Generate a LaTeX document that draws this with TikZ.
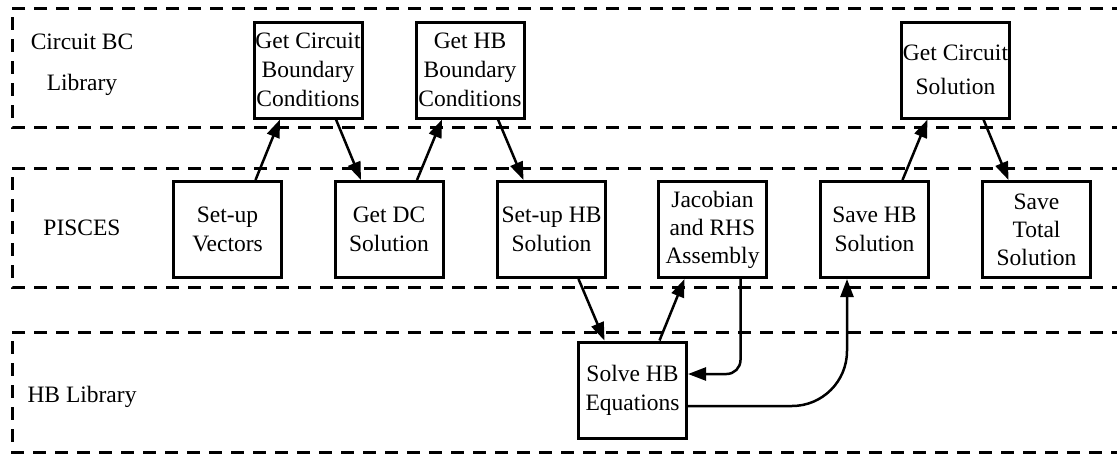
\documentclass[tikz,border=0pt]{standalone}
\usepackage{fontspec}
\setmainfont{Liberation Serif}
\usetikzlibrary{arrows.meta}
\begin{document}
\begin{tikzpicture}[x=1pt,y=-1pt,
  band/.style={line width=3pt, dash pattern=on 13pt off 9pt},
  procbox/.style={draw, line width=3pt, minimum width=108pt, minimum height=96pt,
    inner sep=0pt, align=center, font=\fontsize{23.5}{29}\selectfont},
  lbl/.style={font=\fontsize{23.5}{29}\selectfont, inner sep=0pt},
  conn/.style={line width=2.5pt, -{Triangle[length=18pt,width=13pt]}}]
\useasboundingbox (0,0) rectangle (1117,453);

% swim lanes, open on the right
\draw[band] (1125,8) -- (12,8) -- (12,127) -- (1125,127);
\draw[band] (1125,168) -- (12,168) -- (12,287) -- (1125,287);
\draw[band] (1125,332) -- (12,332) -- (12,452) -- (1125,452);

% lane titles
\node[lbl] (laneA1) at (82,42) {Circuit BC};
\node[lbl] (laneA2) at (82,85) {Library};
\node[lbl] (laneB) at (82,228) {PISCES};
\node[lbl] (laneC) at (82,397) {HB Library};

% circuit boundary-condition library
\node[procbox] (gcbc) at (308,70) {Get Circuit\\Boundary\\Conditions};
\node[procbox] (ghbbc) at (470,70) {Get HB\\Boundary\\Conditions};
\node[procbox, font=\fontsize{23.5}{34}\selectfont] (gcs) at (955.5,70) {Get Circuit\\Solution};

% PISCES steps
\node[procbox] (vec) at (227.5,229.5) {Set-up\\Vectors};
\node[procbox] (dc) at (389,229.5) {Get DC\\Solution};
\node[procbox] (shb) at (551.5,229.5) {Set-up HB\\Solution};
\node[procbox, font=\fontsize{23.5}{28}\selectfont] (jac) at (712.5,229.5) {Jacobian\\and RHS\\Assembly};
\node[procbox] (savehb) at (874.5,229.5) {Save HB\\Solution};
\node[procbox, font=\fontsize{23.5}{28}\selectfont] (savetot) at (1036.5,229.5) {Save\\Total\\Solution};

% HB library
\node[procbox] (solve) at (632.5,390) {Solve HB\\Equations};

% calls between lanes
\draw[conn] ([xshift=28pt]vec.north) -- ([xshift=-28pt]gcbc.south);
\draw[conn] ([xshift=28pt]gcbc.south) -- ([xshift=-28pt]dc.north);
\draw[conn] ([xshift=28pt]dc.north) -- ([xshift=-28pt]ghbbc.south);
\draw[conn] ([xshift=28pt]ghbbc.south) -- ([xshift=-28pt]shb.north);
\draw[conn] ([xshift=28pt]savehb.north) -- ([xshift=-28pt]gcs.south);
\draw[conn] ([xshift=28pt]gcs.south) -- ([xshift=-28pt]savetot.north);
\draw[conn] ([xshift=27pt]shb.south) -- ([xshift=-28pt]solve.north);
\draw[conn] ([xshift=27pt]solve.north) -- ([xshift=-28pt]jac.south);
\draw[conn, rounded corners=14pt] ([xshift=28pt]jac.south) |- ([yshift=16pt]solve.east);
\draw[conn, rounded corners=55pt] ([yshift=-16pt]solve.east) -| ([xshift=-27.5pt]savehb.south);
\end{tikzpicture}
\end{document}
